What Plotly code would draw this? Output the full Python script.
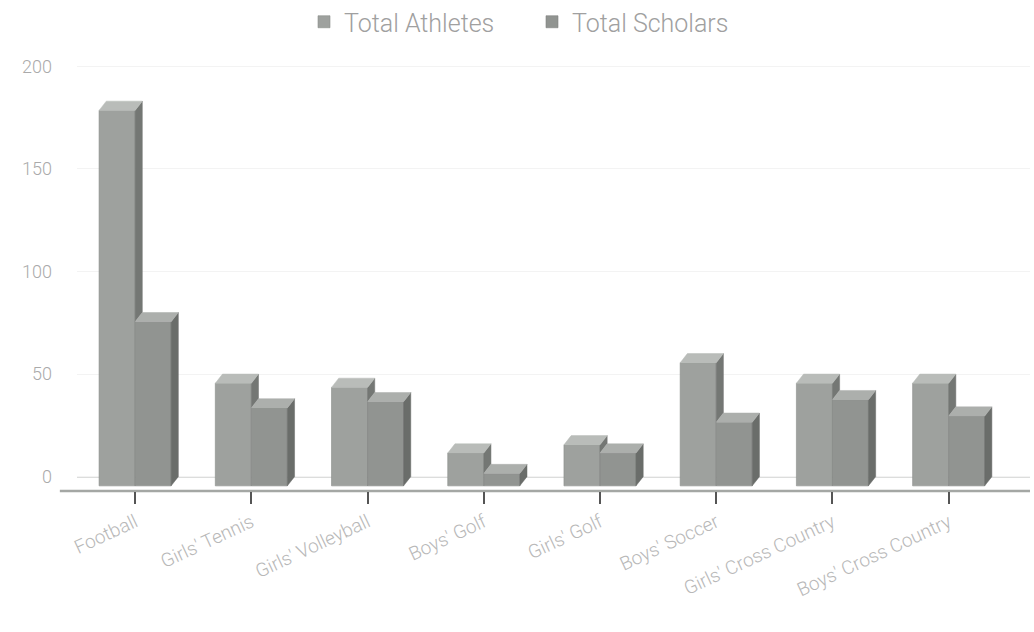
import plotly.graph_objects as go

# Sports programme totals
categories = ["Football", "Girls' Tennis", "Girls' Volleyball", "Boys' Golf",
              "Girls' Golf", "Boys' Soccer", "Girls' Cross Country", "Boys' Cross Country"]
total_athletes = [183, 50, 48, 16, 20, 60, 50, 50]
total_scholars = [80, 38, 41, 6, 16, 31, 42, 34]

BAR_W = 0.31          # width of each bar in category units
DX = 0.062            # horizontal depth of the pseudo-3D faces (category units)
DY = 4.5              # vertical depth of the pseudo-3D faces (value units)
Y_MIN, Y_MAX = -7, 205

FRONT = {"a": "#9ea19e", "s": "#919491"}
TOP = {"a": "#b9bcb9", "s": "#acafac"}
SIDE = {"a": "#747774", "s": "#6a6d6a"}

xs = list(range(len(categories)))
fig = go.Figure()

# Front faces as ordinary bars, sunk by DY so the back edge sits at the value
fig.add_trace(go.Bar(x=xs, y=total_athletes, base=[-DY] * len(xs), width=BAR_W,
                     offset=-BAR_W, name="Total Athletes",
                     marker=dict(color=FRONT["a"], line=dict(color="#8a8d8a", width=0.6))))
fig.add_trace(go.Bar(x=xs, y=total_scholars, base=[-DY] * len(xs), width=BAR_W,
                     offset=0, name="Total Scholars",
                     marker=dict(color=FRONT["s"], line=dict(color="#7f827f", width=0.6))))


def poly_trace(px, py, color):
    return go.Scatter(x=px, y=py, mode="lines", fill="toself", fillcolor=color,
                      line=dict(color=color, width=0.5), showlegend=False,
                      hoverinfo="skip")


top_a_x, top_a_y, top_s_x, top_s_y = [], [], [], []
side_a_x, side_a_y, side_s_x, side_s_y = [], [], [], []
for i, a, s in zip(xs, total_athletes, total_scholars):
    # athletes bar (its right side is partly hidden by the scholars bar)
    xl, xr = i - BAR_W, i
    top_a_x += [xl, xr, xr + DX, xl + DX, xl, None]
    top_a_y += [a - DY, a - DY, a, a, a - DY, None]
    lo = min(s, a)
    side_a_x += [xr, xr + DX, xr + DX, xr, xr, None]
    side_a_y += [lo - DY, lo, a, a - DY, lo - DY, None]
    # scholars bar
    xl, xr = i, i + BAR_W
    top_s_x += [xl, xr, xr + DX, xl + DX, xl, None]
    top_s_y += [s - DY, s - DY, s, s, s - DY, None]
    side_s_x += [xr, xr + DX, xr + DX, xr, xr, None]
    side_s_y += [-DY, 0, s, s - DY, -DY, None]

fig.add_trace(poly_trace(side_a_x, side_a_y, SIDE["a"]))
fig.add_trace(poly_trace(top_a_x, top_a_y, TOP["a"]))
fig.add_trace(poly_trace(side_s_x, side_s_y, SIDE["s"]))
fig.add_trace(poly_trace(top_s_x, top_s_y, TOP["s"]))


def paper_y(v):
    return (v - Y_MIN) / (Y_MAX - Y_MIN)


# back-plane baseline and front floor line
fig.add_shape(type="line", xref="paper", yref="paper", x0=0, x1=1, y0=paper_y(0),
              y1=paper_y(0), line=dict(color="#b9bcb9", width=1.5), layer="below")
fig.add_shape(type="line", xref="paper", yref="paper", x0=-0.018, x1=1, y0=0, y1=0,
              line=dict(color="#a4a7a4", width=2.5), layer="below")

fig.update_layout(
    width=1034, height=632,
    margin=dict(l=77, r=4, t=56, b=141),
    paper_bgcolor="white", plot_bgcolor="white",
    font=dict(family="Roboto", color="#a8a8a8", weight=300),
    barmode="overlay",
    showlegend=True,
    legend=dict(orientation="h", xref="container", x=304 / 1034, xanchor="left",
                yref="container", y=1 - 22 / 632, yanchor="middle",
                entrywidth=183, entrywidthmode="pixels",
                font=dict(size=25, color="#a0a0a0", weight=300),
                traceorder="normal"),
    xaxis=dict(range=[-0.5, 7.7], tickmode="array", tickvals=xs, ticktext=categories,
               tickangle=-25, ticks="outside", ticklen=12, tickwidth=1.5,
               tickcolor="#555555", showgrid=False, zeroline=False, showline=False,
               tickfont=dict(size=19, color="#b8b8b8", weight=300)),
    yaxis=dict(range=[Y_MIN, Y_MAX], tickvals=[0, 50, 100, 150, 200], showgrid=True,
               gridcolor="#f3f3f3", gridwidth=1, zeroline=False, showline=False,
               ticklabelstandoff=24, tickfont=dict(size=18, color="#aaaaaa", weight=300)),
)

fig.write_html("out.html")
